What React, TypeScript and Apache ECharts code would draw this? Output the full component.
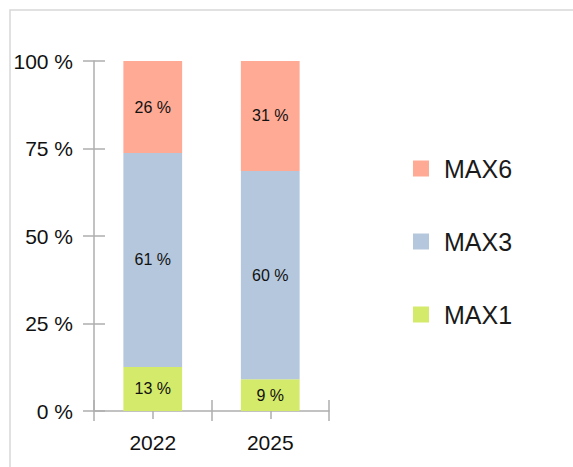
import React, { useEffect, useRef } from "react";
import * as echarts from "echarts";

const categories = ["2022", "2025"];
const max1Values = [12.6, 9.1];
const max3Values = [61.1, 59.5];
const max6Values = [26.3, 31.4];
const yTicks = [0, 25, 50, 75, 100];
const legendOrder = ["MAX6", "MAX3", "MAX1"];

const FONT = "'Liberation Sans', Arial, sans-serif";
const AXIS_COLOR = "#aeaeae";

export default function App() {
  const ref = useRef<HTMLDivElement>(null);
  useEffect(() => {
    document.body.style.margin = "0";
    if (!ref.current) return;
    const chart = echarts.init(ref.current, null, { renderer: "svg" });
    const label = {
      show: true,
      position: "inside",
      color: "#111",
      fontSize: 16,
      fontFamily: FONT,
      formatter: (p: any) => `${Math.round(p.value)} %`,
    };
    const mk = (name: string, data: number[], color: string) => ({
      name,
      type: "bar",
      stack: "total",
      data,
      barWidth: "50%",
      itemStyle: { color },
      label,
      xAxisIndex: 0,
      yAxisIndex: 0,
    });
    const lineStyle = { color: AXIS_COLOR, width: 1.5 };
    chart.setOption({
      animation: false,
      textStyle: { fontFamily: FONT },
      graphic: [
        {
          type: "rect",
          shape: { x: 10, y: 10, width: 700, height: 600 },
          style: { fill: "none", stroke: "#d8d8d8", lineWidth: 1.5 },
          silent: true,
        },
      ],
      grid: { left: 94, right: 244, top: 61, bottom: 56 },
      legend: {
        data: legendOrder,
        orient: "vertical",
        left: 408,
        top: 151,
        itemWidth: 16,
        itemHeight: 16,
        itemGap: 48,
        icon: "rect",
        textStyle: {
          fontSize: 25,
          color: "#1a1a1a",
          fontFamily: FONT,
          padding: [0, 0, 0, 10],
        },
      },
      xAxis: [
        {
          type: "category",
          data: categories,
          position: "bottom",
          axisLine: { show: true, lineStyle },
          axisTick: { show: true, length: 10, lineStyle },
          axisLabel: { fontSize: 21, color: "#111", margin: 21, fontFamily: FONT },
        },
        {
          type: "category",
          data: categories,
          position: "bottom",
          axisLine: { show: false },
          axisTick: { show: true, inside: true, length: 11, lineStyle },
          axisLabel: { show: false },
        },
        {
          type: "category",
          data: categories,
          position: "bottom",
          axisLine: { show: false },
          axisTick: { show: true, alignWithLabel: true, length: 8, lineStyle },
          axisLabel: { show: false },
        },
      ],
      yAxis: [
        {
          type: "value",
          min: yTicks[0],
          max: yTicks[yTicks.length - 1],
          interval: 25,
          position: "left",
          splitLine: { show: false },
          axisLine: { show: true, lineStyle },
          axisTick: { show: true, length: 11, lineStyle },
          axisLabel: {
            fontSize: 21,
            color: "#111",
            margin: 21,
            fontFamily: FONT,
            formatter: "{value} %",
          },
        },
        {
          type: "value",
          min: yTicks[0],
          max: yTicks[yTicks.length - 1],
          interval: 25,
          position: "left",
          offset: 0,
          splitLine: { show: false },
          axisLine: { show: false },
          axisTick: { show: true, inside: true, length: 11, lineStyle },
          axisLabel: { show: false },
        },
      ],
      series: [
        mk("MAX1", max1Values, "#d4ea6b"),
        mk("MAX3", max3Values, "#b4c7dc"),
        mk("MAX6", max6Values, "#ffaa95"),
      ],
    });
    return () => chart.dispose();
  }, []);
  return <div ref={ref} style={{ width: 573, height: 467 }} />;
}
